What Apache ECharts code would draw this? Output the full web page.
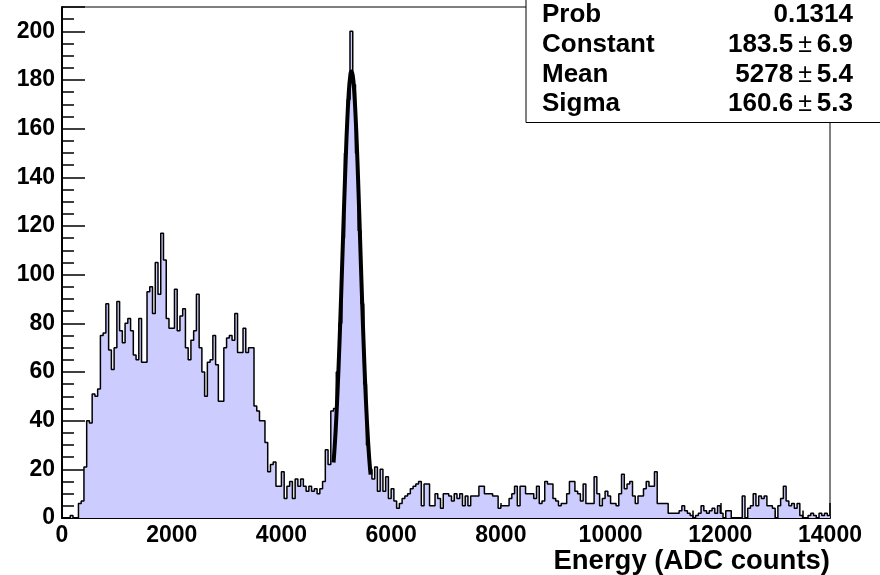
<!DOCTYPE html>
<html><head><meta charset="utf-8">
<script src="https://cdn.jsdelivr.net/npm/echarts@6/dist/echarts.min.js"></script>
<style>html,body{margin:0;padding:0;background:#fff}#c{width:880px;height:575px}</style>
</head><body><div id="c"></div>
<script>
// ---- data ----
const binWidth = 50;            // ADC counts per bin
const xRange = [0, 14000];
const yRange = [0, 210];
const xTickStep = 2000;
const yTickStep = 20;
const counts = [
  0,0,0,1,0,0,6,7,21,40,
  39,51,50,53,75,76,88,69,61,70,
  89,77,72,80,82,77,67,65,82,64,
  64,93,95,84,105,92,117,106,82,78,
  78,94,77,83,86,70,65,73,77,92,
  70,60,50,64,65,75,63,48,48,70,
  74,75,73,84,68,68,78,68,70,70,
  46,44,40,40,31,19,22,23,13,13,
  19,8,13,15,8,16,13,16,13,11,
  13,11,12,10,12,15,28,22,44,45,
  60,80,115,150,172,200,178,150,118,88,
  55,30,20,16,21,11,20,11,17,8,
  12,7,4,6,8,9,10,12,13,14,
  15,5,14,14,5,5,10,8,4,10,
  10,9,7,10,8,10,5,9,5,9,
  9,9,13,13,10,10,10,9,9,4,
  5,5,5,8,10,13,5,13,13,10,
  10,10,8,13,6,7,15,14,14,8,
  7,5,6,6,10,15,15,11,10,7,
  14,6,6,6,17,10,5,8,11,9,
  6,6,5,10,18,12,14,15,9,6,
  9,9,12,15,13,13,19,6,6,6,
  6,2,2,2,2,3,5,3,2,1,
  0,1,2,5,3,2,3,4,2,5,
  2,0,3,3,0,0,0,0,9,0,
  4,5,10,5,9,8,9,5,5,4,
  0,5,8,13,7,5,6,4,6,1,
  0,0,1,2,1,0,2,1,2,1
];
// Gaussian fit curve as drawn
const fitX = [4950,4975,5000,5025,5050,5075,5100,5125,5150,5175,5200,5225,5250,5275,
              5300,5325,5350,5375,5400,5425,5450,5475,5500,5525,5550,5575,5600,5625];
const fitY = [22.8,30.9,41.0,53.1,67.0,82.5,99.3,116.5,133.5,149.4,163.1,173.8,180.7,183.5,
              181.8,175.8,166.0,152.9,137.5,120.7,103.4,86.5,70.6,56.2,43.7,33.2,24.6,17.8];
const xTitle = 'Energy (ADC counts)';
const statNames = ['Prob', 'Constant', 'Mean', 'Sigma'];
const statValues = ['0.1314', '183.5', '5278', '160.6'];
const statErrors = [null, '6.9', '5.4', '5.3'];

// ---- chart ----
const FONT = '"Liberation Sans", Arial, Helvetica, sans-serif';
const chart = echarts.init(document.getElementById('c'), null, {renderer: 'canvas'});
const histData = counts.map((c, i) => [xRange[0] + i * binWidth, c]);
histData.push([xRange[0] + counts.length * binWidth, counts[counts.length - 1]]);
const fitData = fitX.map((x, i) => [x, fitY[i]]);

const statRowsY = [15, 45, 75, 104];
const graphics = [
  {type: 'rect', z: 100, shape: {x: 526, y: -2, width: 360, height: 124.5},
   style: {fill: '#fff', stroke: '#000', lineWidth: 1}}
];
statNames.forEach((n, i) => {
  graphics.push({type: 'text', z: 101, x: 542, y: statRowsY[i],
    style: {text: n, fill: '#000', font: 'bold 26px ' + FONT, align: 'left', verticalAlign: 'middle',
            textAlign: 'left', textVerticalAlign: 'middle'}});
  const txt = statErrors[i] === null ? '{v|' + statValues[i] + '}'
            : '{v|' + statValues[i] + '}{pm|\u00b1}{v|' + statErrors[i] + '}';
  graphics.push({type: 'text', z: 101, x: 853, y: statRowsY[i],
    style: {text: txt, fill: '#000', align: 'right', verticalAlign: 'middle',
            textAlign: 'right', textVerticalAlign: 'middle',
            rich: {
              v: {fontFamily: FONT, fontWeight: 'bold', fontSize: 26, fill: '#000'},
              pm: {fontFamily: FONT, fontWeight: 'normal', fontSize: 25, fill: '#000', padding: [0, 5, 0, 5]}
            }}});
});

const option = {
  animation: false,
  backgroundColor: '#fff',
  grid: {left: 62, top: 7, width: 768, height: 514, show: true,
         borderColor: '#000', borderWidth: 1, backgroundColor: 'transparent'},
  xAxis: {
    type: 'value', min: xRange[0], max: xRange[1], interval: xTickStep,
    axisLine: {show: true, onZero: false, lineStyle: {color: '#000', width: 2}},
    axisTick: {show: true, inside: true, length: 15, lineStyle: {color: '#000', width: 1.5}},
    minorTick: {show: true, splitNumber: 4, length: 7.5, lineStyle: {color: '#000', width: 1.5}},
    splitLine: {show: false},
    axisLabel: {color: '#000', fontFamily: FONT, fontWeight: 'bold', fontSize: 23, margin: 6,
                formatter: v => String(v)},
    name: xTitle, nameLocation: 'end', nameGap: 0,
    nameTextStyle: {color: '#000', fontFamily: FONT, fontWeight: 'bold', fontSize: 27.5,
                    align: 'right', verticalAlign: 'top', padding: [29, 0, 0, 0]}
  },
  yAxis: {
    type: 'value', min: yRange[0], max: yRange[1], interval: yTickStep,
    axisLine: {show: true, onZero: false, lineStyle: {color: '#000', width: 2}},
    axisTick: {show: true, inside: true, length: 23, lineStyle: {color: '#000', width: 1.5}},
    minorTick: {show: true, splitNumber: 4, length: 12, lineStyle: {color: '#000', width: 1.5}},
    splitLine: {show: false},
    axisLabel: {color: '#000', fontFamily: FONT, fontWeight: 'bold', fontSize: 23, margin: 7,
                showMaxLabel: false, formatter: v => String(v)}
  },
  series: [
    {type: 'line', step: 'end', data: histData, symbol: 'none', z: 2,
     lineStyle: {color: '#000', width: 1.5}, areaStyle: {color: '#ccccff', opacity: 1}},
    {type: 'line', smooth: true, data: fitData, symbol: 'none', z: 3,
     lineStyle: {color: '#000', width: 4}}
  ],
  graphic: graphics
};
chart.setOption(option);
</script></body></html>
